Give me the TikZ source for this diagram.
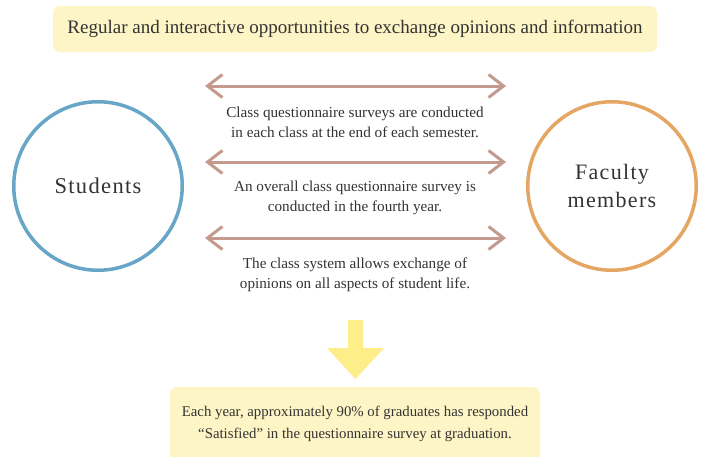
\documentclass[tikz,border=0pt]{standalone}
\usepackage{fontspec}
\setmainfont{Liberation Serif}
\usetikzlibrary{arrows.meta}
\definecolor{boxfill}{HTML}{FDF5C5}
\definecolor{arrowc}{HTML}{C49A8E}
\definecolor{stublue}{HTML}{67A6C6}
\definecolor{facorange}{HTML}{E5A563}
\definecolor{downy}{HTML}{FEEE8A}
\definecolor{txt}{HTML}{333333}
\tikzset{
  yellowbox/.style={fill=boxfill, rounded corners=7pt, inner sep=0pt},
  twoway/.style={draw=arrowc, line width=3pt,
    {Straight Barb[length=15pt,width=23pt]}-{Straight Barb[length=15pt,width=23pt]}},
  bodytext/.style={text=txt, align=center, font=\fontsize{15.2}{20}\selectfont, inner sep=0pt},
  person/.style={circle, line width=3.5pt, minimum size=168.5pt, inner sep=0pt, text=txt, align=center},
}
\begin{document}
\begin{tikzpicture}[x=1pt,y=-1pt]
\clip (0,0) rectangle (703,456);
\fill[white] (0,0) rectangle (703,456);
% top box
\node[yellowbox, minimum width=604pt, minimum height=46pt] (topbox) at (355,29) {};
\node[text=txt, font=\fontsize{19}{20}\selectfont, inner sep=0pt] (toptext) at (355,29)
  {Regular and interactive opportunities to exchange opinions and information};
% circles
\node[person, draw=stublue, font=\fontsize{22.5}{28}\selectfont\addfontfeatures{LetterSpace=6}] (stu) at (98,186) {Students};
\node[person, draw=facorange, font=\fontsize{22}{28}\selectfont\addfontfeatures{LetterSpace=6}] (fac) at (612,186) {Faculty\\members};
% arrows
\coordinate (a1l) at (205,86);  \coordinate (a1r) at (506,86);
\coordinate (a2l) at (205,162); \coordinate (a2r) at (506,162);
\coordinate (a3l) at (205,238); \coordinate (a3r) at (506,238);
\draw[twoway] (a1l) -- (a1r);
\draw[twoway] (a2l) -- (a2r);
\draw[twoway] (a3l) -- (a3r);
\node[bodytext] (t1) at (355,122) {Class questionnaire surveys are conducted\\in each class at the end of each semester.};
\node[bodytext] (t2) at (355,198) {An overall class questionnaire survey is\\conducted in the fourth year.};
\node[bodytext] (t3) at (355,274.5) {The class system allows exchange of\\opinions on all aspects of student life.};
% down arrow
\fill[downy] (348,320) -- (363,320) -- (363,348) -- (384,348) -- (355.5,379) -- (327,348) -- (348,348) -- cycle;
% bottom box
\node[yellowbox, minimum width=370pt, minimum height=90pt] (resbox) at (355,432) {};
\node[bodytext, font=\fontsize{14.8}{22}\selectfont] (restext) at (355,424)
  {Each year, approximately 90\% of graduates has responded\\``Satisfied'' in the questionnaire survey at graduation.};
\end{tikzpicture}
\end{document}
